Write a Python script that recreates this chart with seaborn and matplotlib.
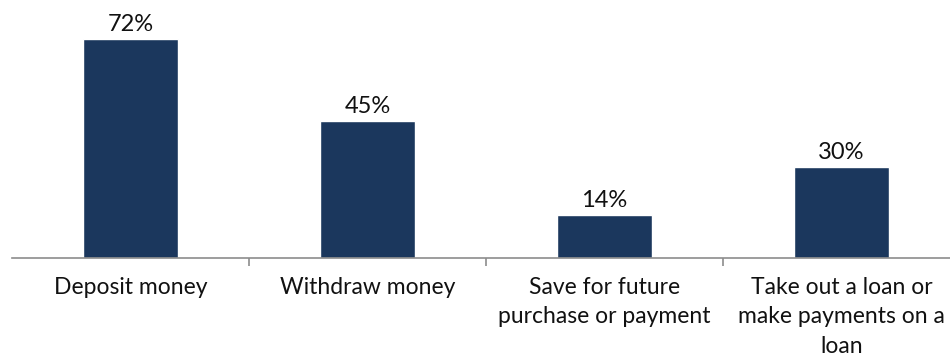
import matplotlib
matplotlib.use("Agg")
import matplotlib.pyplot as plt
import seaborn as sns
import pandas as pd
from matplotlib.ticker import FixedLocator

categories = [
    "Deposit money",
    "Withdraw money",
    "Save for future\npurchase or payment",
    "Take out a loan or\nmake payments on a\nloan",
]
values = [72, 45, 14, 30]
value_labels = ["72%", "45%", "14%", "30%"]

sns.set_theme(style="white")
plt.rcParams["font.family"] = ["Lato", "DejaVu Sans"]

df = pd.DataFrame({"category": categories, "share": values})

fig = plt.figure(figsize=(9.5, 3.56), dpi=100)
ax = fig.add_axes([12 / 950, 98 / 356, 948 / 950, 258 / 356])

sns.barplot(data=df, x="category", y="share", color="#1B375D", width=0.4,
            saturation=1, ax=ax)

ax.set_xlim(-0.5, 3.5)
ax.set_ylim(0, 84.9)
ax.set_xlabel("")
ax.set_ylabel("")
ax.set_yticks([])

for patch, lab in zip(ax.patches, value_labels):
    ax.annotate(lab, (patch.get_x() + patch.get_width() / 2, patch.get_height()),
                xytext=(0, 3), textcoords="offset points", ha="center", va="bottom",
                fontsize=17, color="#111111")

ax.set_xticks(range(len(categories)))
ax.set_xticklabels(categories, fontsize=16.5, color="#111111", linespacing=1.5, va="top")
ax.tick_params(axis="x", which="major", length=0, pad=13.5)
ax.xaxis.set_minor_locator(FixedLocator([0.5, 1.5, 2.5]))
ax.tick_params(axis="x", which="minor", length=6, width=1.2, color="#8c8c8c", bottom=True)

for side in ["top", "right", "left"]:
    ax.spines[side].set_visible(False)
ax.spines["bottom"].set_color("#8c8c8c")
ax.spines["bottom"].set_linewidth(1.2)

fig.savefig("out.png", dpi=100)
